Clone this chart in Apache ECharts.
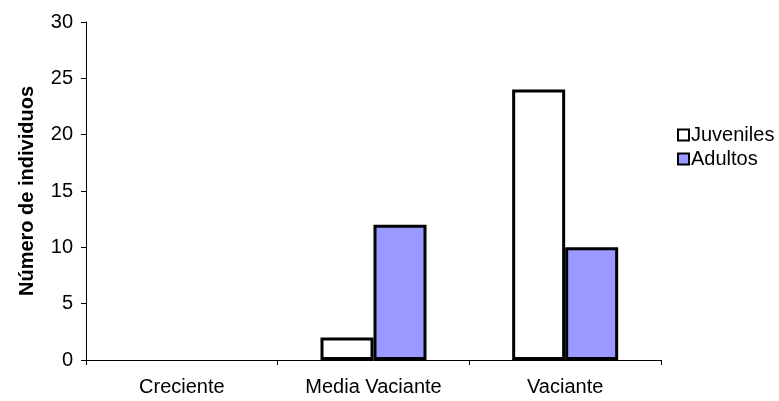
<!DOCTYPE html>
<html>
<head>
<meta charset="utf-8">
<script src="https://cdn.jsdelivr.net/npm/echarts@6/dist/echarts.min.js"></script>
<style>
  html, body { margin: 0; padding: 0; background: #fff; }
  #main { width: 779px; height: 401px; }
</style>
</head>
<body>
<div id="main"></div>
<script>
var categories = ['Creciente', 'Media Vaciante', 'Vaciante'];
var juveniles = [0, 2, 24];
var adultos = [0, 12, 10];
var yTicks = [0, 5, 10, 15, 20, 25, 30];

// barras en cero: sin borde (no se ven en el original)
function toItems(arr) {
    return arr.map(function (v) {
        return v === 0 ? { value: v, itemStyle: { borderWidth: 0, opacity: 0 } } : v;
    });
}

var myChart = echarts.init(document.getElementById('main'));
var font = 'Liberation Sans, Arial, sans-serif';
var option = {
    animation: false,
    grid: { left: 86, top: 22, right: 118, bottom: 41 },
    legend: {
        data: ['Juveniles', 'Adultos'],
        orient: 'vertical',
        left: 672,
        top: 120,
        icon: 'rect',
        itemWidth: 11,
        itemHeight: 11,
        itemGap: 4,
        textStyle: { fontFamily: font, fontSize: 20, color: '#000', padding: [0, 0, 0, -3] }
    },
    xAxis: {
        type: 'category',
        data: categories,
        axisLine: { lineStyle: { color: '#000', width: 1 } },
        axisTick: { show: true, length: 5, lineStyle: { color: '#000' } },
        axisLabel: { fontFamily: font, fontSize: 20, color: '#000', margin: 17 }
    },
    yAxis: {
        type: 'value',
        min: yTicks[0],
        max: yTicks[yTicks.length - 1],
        interval: 5,
        name: 'Número de individuos',
        nameLocation: 'middle',
        nameGap: 49,
        nameTextStyle: { fontFamily: font, fontSize: 20, fontWeight: 'bold', color: '#000' },
        axisLine: { show: true, lineStyle: { color: '#000', width: 1 } },
        axisTick: { show: true, length: 5, lineStyle: { color: '#000' } },
        axisLabel: { fontFamily: font, fontSize: 20, color: '#000', margin: 13 },
        splitLine: { show: false }
    },
    series: [
        {
            name: 'Juveniles',
            type: 'bar',
            data: toItems(juveniles),
            barWidth: 53,
            barGap: '0%',
            itemStyle: { color: '#ffffff', borderColor: '#000', borderWidth: 3 }
        },
        {
            name: 'Adultos',
            type: 'bar',
            data: toItems(adultos),
            barWidth: 53,
            itemStyle: { color: '#9999ff', borderColor: '#000', borderWidth: 3 }
        }
    ]
};
myChart.setOption(option);
</script>
</body>
</html>
